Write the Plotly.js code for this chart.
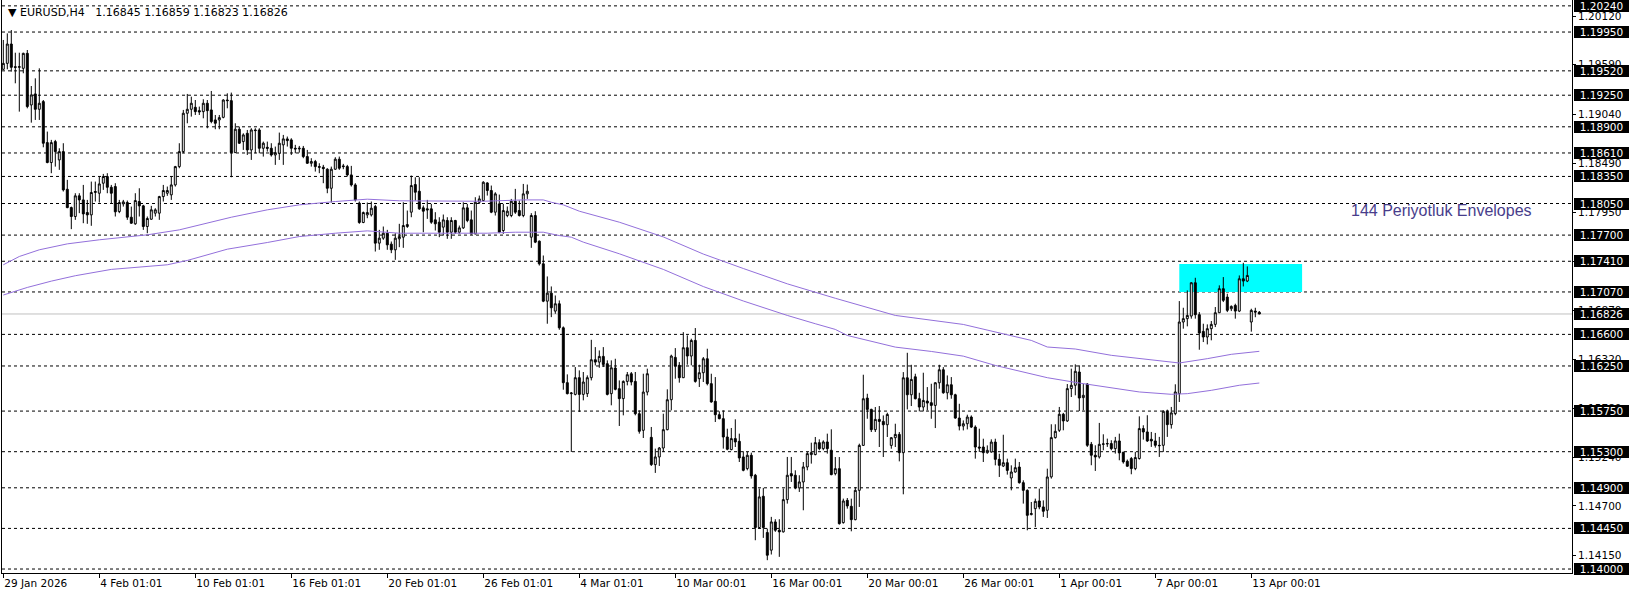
<!DOCTYPE html>
<html><head><meta charset="utf-8">
<script src="https://cdn.plot.ly/plotly-3.0.1.min.js"></script>
<style>html,body{margin:0;padding:0;background:#fff;} #chart{width:1636px;height:597px;}</style>
</head><body><div id="chart"></div>
<script>
const open=[
1.19537,1.19603,1.19817,1.19566,1.19559,1.19548,1.19714,1.19142,1.19264,1.19094,
1.19179,1.18725,1.18504,1.18736,1.18533,1.18625,1.18208,1.18005,1.17906,1.18135,
1.18090,1.17950,1.17924,1.18172,1.18164,1.18275,1.18349,1.18230,1.18238,1.17961,
1.18046,1.18061,1.17898,1.17825,1.18072,1.18024,1.17795,1.17876,1.17943,1.17943,
1.18127,1.18164,1.18146,1.18256,1.18459,1.18625,1.19050,1.19094,1.19116,1.19079,
1.19068,1.19161,1.19087,1.18976,1.18976,1.19005,1.19197,1.19190,1.18614,1.18873,
1.18736,1.18828,1.18644,1.18865,1.18865,1.18662,1.18673,1.18662,1.18588,1.18607,
1.18700,1.18766,1.18755,1.18662,1.18655,1.18662,1.18570,1.18496,1.18515,1.18459,
1.18452,1.18430,1.18219,1.18430,1.18541,1.18467,1.18459,1.18367,1.18256,1.18054,
1.17840,1.17924,1.17924,1.18016,1.17611,1.17666,1.17721,1.17600,1.17537,1.17659,
1.17677,1.17795,1.17954,1.18260,1.18186,1.18002,1.17991,1.17991,1.17869,1.17843,
1.17788,1.17862,1.17732,1.17862,1.17732,1.17780,1.18002,1.17869,1.17714,1.18064,
1.18083,1.18278,1.18194,1.17954,1.18046,1.17751,1.17917,1.17917,1.18075,1.17972,
1.17917,1.18157,1.17677,1.17917,1.17633,1.17382,1.16968,1.17057,1.16858,1.16939,
1.16673,1.16065,1.15943,1.15935,1.16120,1.15935,1.15943,1.16120,1.16319,1.16293,
1.16356,1.16275,1.15943,1.16227,1.15998,1.15888,1.16079,1.16164,1.16079,1.15721,
1.15537,1.15961,1.15459,1.15157,1.15242,1.15341,1.15544,1.15876,1.16345,1.16257,
1.16120,1.16452,1.16360,1.16533,1.16109,1.16175,1.16330,1.16054,1.15858,1.15710,
1.15666,1.15463,1.15323,1.15445,1.15415,1.15242,1.15113,1.15260,1.15039,1.14460,
1.14806,1.14404,1.14209,1.14522,1.14430,1.14412,1.14769,1.15057,1.15039,1.14899,
1.14965,1.15131,1.15268,1.15268,1.15400,1.15334,1.15408,1.15316,1.15057,1.15112,
1.14514,1.14761,1.14695,1.14547,1.14872,1.15370,1.15894,1.15769,1.15544,1.15658,
1.15636,1.15599,1.15370,1.15455,1.15492,1.15289,1.16119,1.15931,1.16130,1.15887,
1.15795,1.15861,1.15843,1.15813,1.16064,1.16208,1.15953,1.16042,1.15931,1.15673,
1.15584,1.15610,1.15684,1.15573,1.15352,1.15352,1.15289,1.15297,1.15407,1.15215,
1.15141,1.15178,1.15009,1.15075,1.15130,1.14957,1.14872,1.14603,1.14669,1.14754,
1.14688,1.14651,1.15021,1.15456,1.15537,1.15715,1.15641,1.15999,1.16036,1.16183,
1.15899,1.16050,1.15382,1.15261,1.15242,1.15382,1.15386,1.15390,1.15334,1.15419,
1.15294,1.15194,1.15224,1.15113,1.15224,1.15556,1.15519,1.15438,1.15419,1.15371,
1.15371,1.15748,1.15600,1.15722,1.15943,1.16737,1.16774,1.16803,1.17172,1.16818,
1.16633,1.16571,1.16663,1.16711,1.16840,1.17106,1.17013,1.16884,1.16921,1.16858,
1.17216,1.17191,1.16737,1.16858,1.16845];
const high=[
1.19862,1.19935,1.19972,1.19721,1.19721,1.19721,1.19751,1.19352,1.19437,1.19548,
1.19197,1.18847,1.18755,1.18755,1.18662,1.18718,1.18312,1.18016,1.18164,1.18164,
1.18256,1.18090,1.18293,1.18293,1.18349,1.18378,1.18386,1.18256,1.18275,1.18090,
1.18090,1.18083,1.18016,1.18164,1.18219,1.18035,1.17906,1.18024,1.17998,1.18135,
1.18256,1.18238,1.18349,1.18467,1.18718,1.19087,1.19264,1.19234,1.19197,1.19124,
1.19205,1.19197,1.19297,1.19031,1.19031,1.19205,1.19271,1.19279,1.18939,1.18902,
1.18828,1.18865,1.18884,1.18884,1.18884,1.18736,1.18736,1.18718,1.18681,1.18836,
1.18810,1.18792,1.18773,1.18700,1.18688,1.18688,1.18644,1.18552,1.18533,1.18496,
1.18478,1.18441,1.18459,1.18563,1.18570,1.18489,1.18478,1.18467,1.18275,1.18072,
1.17961,1.18061,1.18072,1.18035,1.17758,1.17795,1.17758,1.17629,1.17721,1.17825,
1.18064,1.17972,1.18360,1.18341,1.18341,1.18028,1.18090,1.18046,1.17954,1.17898,
1.17928,1.17898,1.17898,1.17869,1.17806,1.18064,1.18046,1.17972,1.18120,1.18138,
1.18297,1.18286,1.18249,1.18175,1.18149,1.18046,1.18017,1.18101,1.18212,1.18083,
1.18267,1.18260,1.17943,1.17965,1.17640,1.17474,1.17242,1.17131,1.17031,1.16976,
1.16688,1.16157,1.15961,1.16238,1.16201,1.16183,1.16146,1.16540,1.16459,1.16422,
1.16459,1.16312,1.16312,1.16330,1.16090,1.16090,1.16183,1.16183,1.16183,1.15758,
1.16164,1.16220,1.15574,1.15334,1.15352,1.15721,1.15991,1.16375,1.16448,1.16293,
1.16625,1.16589,1.16552,1.16670,1.16264,1.16349,1.16441,1.16164,1.16127,1.15747,
1.15758,1.15555,1.15563,1.15659,1.15500,1.15305,1.15297,1.15290,1.15054,1.14891,
1.14899,1.14448,1.14578,1.14552,1.14552,1.14891,1.15242,1.15242,1.15094,1.15039,
1.15186,1.15297,1.15400,1.15463,1.15437,1.15426,1.15500,1.15548,1.15241,1.15241,
1.14780,1.14787,1.14780,1.14909,1.15389,1.16153,1.15942,1.15776,1.15795,1.15806,
1.15702,1.15732,1.15463,1.15610,1.15518,1.16182,1.16396,1.16263,1.16164,1.15953,
1.16175,1.16016,1.16053,1.16071,1.16263,1.16237,1.16145,1.16127,1.15942,1.15831,
1.15647,1.15710,1.15702,1.15592,1.15555,1.15444,1.15370,1.15437,1.15444,1.15278,
1.15488,1.15223,1.15149,1.15223,1.15186,1.14983,1.14883,1.14743,1.14780,1.14891,
1.14761,1.15112,1.15604,1.15604,1.15796,1.15730,1.16050,1.16220,1.16268,1.16257,
1.16050,1.16061,1.15408,1.15371,1.15619,1.15493,1.15445,1.15427,1.15464,1.15500,
1.15298,1.15213,1.15242,1.15298,1.15692,1.15593,1.15704,1.15519,1.15508,1.15464,
1.15759,1.15766,1.15796,1.16047,1.16969,1.16895,1.17087,1.17179,1.17227,1.16847,
1.16718,1.16711,1.16748,1.16903,1.17143,1.17235,1.17050,1.16921,1.16940,1.17253,
1.17393,1.17353,1.16884,1.16895,1.16859];
const low=[
1.19529,1.19537,1.19511,1.19382,1.19068,1.19493,1.19105,1.18946,1.18976,1.18976,
1.18673,1.18496,1.18386,1.18459,1.18423,1.18183,1.17998,1.17766,1.17869,1.17943,
1.17832,1.17825,1.17803,1.18072,1.18061,1.18201,1.18164,1.18054,1.17906,1.17943,
1.18016,1.17869,1.17825,1.17814,1.17906,1.17758,1.17721,1.17869,1.17906,1.17869,
1.18072,1.18135,1.18090,1.18238,1.18441,1.18607,1.18939,1.19013,1.19031,1.19031,
1.18994,1.18884,1.18939,1.18873,1.18873,1.18994,1.19105,1.18341,1.18614,1.18710,
1.18644,1.18588,1.18533,1.18607,1.18607,1.18570,1.18625,1.18570,1.18478,1.18533,
1.18478,1.18681,1.18588,1.18607,1.18614,1.18552,1.18489,1.18459,1.18404,1.18386,
1.18275,1.18164,1.18061,1.18423,1.18423,1.18430,1.18349,1.18238,1.18072,1.17825,
1.17832,1.17887,1.17906,1.17518,1.17537,1.17648,1.17537,1.17500,1.17426,1.17566,
1.17559,1.17780,1.17898,1.18083,1.17980,1.17732,1.17880,1.17825,1.17751,1.17677,
1.17695,1.17659,1.17659,1.17714,1.17714,1.17769,1.17843,1.17707,1.17707,1.18046,
1.18075,1.18138,1.17943,1.17917,1.17721,1.17714,1.17898,1.17898,1.17935,1.17906,
1.17898,1.18101,1.17559,1.17611,1.17363,1.16957,1.16718,1.16791,1.16828,1.16651,
1.15987,1.15935,1.15297,1.15924,1.15740,1.15869,1.15906,1.16090,1.16256,1.16230,
1.16238,1.15924,1.15814,1.15980,1.15585,1.15703,1.16035,1.16035,1.15703,1.15500,
1.15452,1.15924,1.15142,1.15065,1.15142,1.15297,1.15537,1.15758,1.16109,1.16065,
1.16116,1.16264,1.16257,1.16065,1.16017,1.16072,1.16035,1.15843,1.15629,1.15659,
1.15334,1.15316,1.15316,1.15352,1.15186,1.15083,1.15094,1.15002,1.14319,1.14448,
1.14345,1.14098,1.14161,1.14412,1.14135,1.14404,1.14725,1.14965,1.14884,1.14854,
1.14651,1.15094,1.15168,1.15260,1.15316,1.15316,1.15279,1.15039,1.15038,1.14492,
1.14503,1.14669,1.14418,1.14540,1.14688,1.15363,1.15665,1.15518,1.15518,1.15352,
1.15241,1.15463,1.15333,1.15352,1.15193,1.14828,1.15769,1.15806,1.15880,1.15747,
1.15747,1.15758,1.15665,1.15562,1.15998,1.15942,1.15880,1.15887,1.15665,1.15536,
1.15536,1.15547,1.15562,1.15223,1.15297,1.15186,1.15278,1.15289,1.15149,1.15020,
1.15130,1.15046,1.14872,1.15068,1.14946,1.14725,1.14429,1.14595,1.14466,1.14662,
1.14577,1.14566,1.15002,1.15445,1.15519,1.15537,1.15630,1.15906,1.15925,1.15751,
1.15759,1.15353,1.15150,1.15087,1.15224,1.15316,1.15353,1.15316,1.15279,1.15205,
1.15168,1.15132,1.15050,1.15095,1.15213,1.15434,1.15408,1.15353,1.15345,1.15242,
1.15298,1.15464,1.15556,1.15704,1.15851,1.16663,1.16689,1.16774,1.16774,1.16430,
1.16515,1.16489,1.16534,1.16681,1.16836,1.16958,1.16847,1.16858,1.16774,1.16847,
1.17131,1.17179,1.16630,1.16790,1.16823];
const close=[
1.19603,1.19817,1.19559,1.19559,1.19566,1.19714,1.19124,1.19253,1.19094,1.19161,
1.18718,1.18504,1.18725,1.18625,1.18625,1.18201,1.18005,1.17906,1.18135,1.18090,
1.17935,1.17924,1.18172,1.18183,1.18267,1.18349,1.18230,1.18164,1.17958,1.18061,
1.18068,1.17898,1.17832,1.18083,1.18024,1.17795,1.17884,1.17980,1.17980,1.18127,
1.18194,1.18194,1.18256,1.18459,1.18625,1.19050,1.19094,1.19161,1.19068,1.19065,
1.19161,1.19079,1.18958,1.18939,1.19002,1.19197,1.19190,1.18614,1.18873,1.18718,
1.18810,1.18644,1.18865,1.18858,1.18662,1.18718,1.18662,1.18588,1.18614,1.18718,
1.18766,1.18747,1.18662,1.18655,1.18662,1.18570,1.18496,1.18515,1.18459,1.18452,
1.18437,1.18219,1.18430,1.18541,1.18441,1.18459,1.18367,1.18256,1.18090,1.17840,
1.17950,1.17950,1.17998,1.17611,1.17666,1.17721,1.17592,1.17537,1.17666,1.17684,
1.17806,1.17817,1.18249,1.18175,1.17991,1.17965,1.17980,1.17843,1.17825,1.17732,
1.17869,1.17732,1.17862,1.17732,1.17780,1.18002,1.17862,1.17714,1.18064,1.18101,
1.18286,1.18194,1.17954,1.18157,1.17732,1.17972,1.17965,1.18075,1.17954,1.17917,
1.18157,1.18186,1.17917,1.17622,1.17382,1.16968,1.17057,1.16895,1.16939,1.16673,
1.16065,1.15943,1.15950,1.16120,1.15935,1.16072,1.16120,1.16319,1.16293,1.16356,
1.16267,1.15935,1.16230,1.15991,1.15888,1.16079,1.16153,1.16072,1.15721,1.15526,
1.15961,1.16164,1.15157,1.15242,1.15341,1.15544,1.15876,1.16360,1.16249,1.16120,
1.16452,1.16360,1.16533,1.16079,1.16175,1.16330,1.16054,1.15851,1.15710,1.15666,
1.15463,1.15327,1.15445,1.15408,1.15231,1.15094,1.15260,1.15031,1.14460,1.14799,
1.14460,1.14153,1.14522,1.14430,1.14412,1.14769,1.15039,1.15031,1.14899,1.14965,
1.15131,1.15279,1.15290,1.15400,1.15334,1.15408,1.15334,1.15046,1.15112,1.14503,
1.14754,1.14699,1.14547,1.14872,1.15370,1.15887,1.15769,1.15544,1.15658,1.15636,
1.15599,1.15713,1.15455,1.15492,1.15289,1.16119,1.15931,1.16101,1.15887,1.15795,
1.15868,1.15839,1.15813,1.16064,1.16208,1.15953,1.16042,1.15931,1.15673,1.15584,
1.15610,1.15684,1.15573,1.15352,1.15341,1.15289,1.15315,1.15407,1.15215,1.15149,
1.15178,1.15093,1.15075,1.15123,1.14957,1.14872,1.14595,1.14614,1.14750,1.14688,
1.14640,1.15020,1.15456,1.15526,1.15715,1.15641,1.15999,1.16036,1.16191,1.15895,
1.15925,1.15371,1.15261,1.15242,1.15382,1.15386,1.15390,1.15334,1.15419,1.15287,
1.15187,1.15139,1.15113,1.15235,1.15556,1.15519,1.15419,1.15419,1.15371,1.15367,
1.15748,1.15600,1.15730,1.15962,1.16737,1.16774,1.16810,1.17172,1.16818,1.16615,
1.16571,1.16663,1.16711,1.16840,1.17106,1.16977,1.16866,1.16910,1.16858,1.17216,
1.17191,1.17253,1.16866,1.16847,1.16826];

// 144-period envelope lines (values read at candle positions)
const upperIdx=[0,4,9,16,24,36,44,49,57,66,74,83,91,99,110,120,130,135,137,140,144,149,154,165,175,185,196,208,223,240,252,257,261,268,277,286,294,301,307,314];
const upperVal=[1.17371,1.17463,1.17537,1.17603,1.17648,1.17703,1.17758,1.17814,1.17898,1.17980,1.18035,1.18072,1.18098,1.18080,1.18075,1.18075,1.18090,1.18090,1.18064,1.18035,1.17965,1.17906,1.17843,1.17680,1.17490,1.17330,1.17160,1.17000,1.16810,1.16710,1.16588,1.16533,1.16460,1.16438,1.16368,1.16320,1.16283,1.16331,1.16379,1.16412];
const lowerIdx=[0,6,12,18,27,41,46,56,66,74,83,91,99,110,121,128,135,139,142,145,149,151,154,165,175,185,196,203,208,211,215,223,232,240,248,257,261,269,277,284,292,296,302,309,314];
const lowerVal=[1.17036,1.17120,1.17190,1.17250,1.17320,1.17371,1.17419,1.17544,1.17618,1.17684,1.17721,1.17747,1.17721,1.17721,1.17721,1.17732,1.17732,1.17695,1.17677,1.17622,1.17566,1.17530,1.17493,1.17320,1.17130,1.16970,1.16810,1.16718,1.16655,1.16588,1.16544,1.16459,1.16411,1.16359,1.16256,1.16164,1.16120,1.16061,1.16006,1.15962,1.15936,1.15943,1.15980,1.16036,1.16061];

const levels=[1.20240,1.19950,1.19520,1.19250,1.18900,1.18610,1.18350,1.18050,1.17700,1.17410,1.17070,1.16600,1.16250,1.15750,1.15300,1.14900,1.14450,1.14000];
const bidPrice=1.16826;
const priceTicks=[1.20120,1.19590,1.19040,1.18490,1.17950,1.17410,1.16870,1.16320,1.15780,1.15240,1.14700,1.14150];
const timeTickIdx=[0,24,48,72,96,120,144,168,192,216,240,264,288,312];
const timeTickText=["29 Jan 2026","4 Feb 01:01","10 Feb 01:01","16 Feb 01:01","20 Feb 01:01","26 Feb 01:01","4 Mar 01:01","10 Mar 00:01","16 Mar 00:01","20 Mar 00:01","26 Mar 00:01","1 Apr 00:01","7 Apr 00:01","13 Apr 00:01"];
const headerText="\u25BC EURUSD,H4\u00A0\u00A0 1.16845 1.16859 1.16823 1.16826";
const envText="144 Periyotluk Envelopes";

const idx=open.map((_,i)=>i);
const FONT="DejaVu Sans";

const traces=[
 {type:'candlestick',x:idx,open:open,high:high,low:low,close:close,
  increasing:{line:{color:'#000',width:1},fillcolor:'#ffffff'},
  decreasing:{line:{color:'#000',width:1},fillcolor:'#000000'},
  whiskerwidth:0,hoverinfo:'none'},
 {type:'scatter',mode:'lines',x:upperIdx,y:upperVal,line:{color:'#9370DB',width:1},hoverinfo:'none'},
 {type:'scatter',mode:'lines',x:lowerIdx,y:lowerVal,line:{color:'#9370DB',width:1},hoverinfo:'none'}
];

const shapes=[
 {type:'rect',xref:'x',yref:'y',x0:294,x1:324.7,y0:1.17070,y1:1.17380,fillcolor:'#00FFFF',line:{width:0},layer:'below'}
];
levels.forEach(v=>shapes.push({type:'line',xref:'paper',x0:0,x1:1,yref:'y',y0:v,y1:v,line:{color:'#000',width:1,dash:'3px,3px'},layer:'below'}));
shapes.push({type:'line',xref:'paper',x0:0,x1:1,yref:'y',y0:bidPrice,y1:bidPrice,line:{color:'#C0C0C0',width:1},layer:'below'});

const annotations=[];
levels.concat([bidPrice]).forEach(v=>annotations.push({xref:'paper',x:1,xanchor:'left',xshift:2,yref:'y',y:v,yanchor:'middle',
  text:v.toFixed(5),showarrow:false,bgcolor:'#000',borderpad:0,borderwidth:0,width:55,height:12,align:'center',
  font:{family:FONT,size:10.5,color:'#fff'}}));
annotations.push({xref:'paper',x:0,xanchor:'left',xshift:4,yref:'paper',y:1-12.5/573,yanchor:'middle',text:headerText,showarrow:false,
  font:{family:FONT,size:11,color:'#000'}});
annotations.push({xref:'paper',x:(1349-2)/1570,xanchor:'left',yref:'paper',y:1-210/573,yanchor:'middle',text:envText,showarrow:false,
  font:{family:'Liberation Sans, Arial',size:16,color:'#483D8B'}});

const layout={
 width:1636,height:597,margin:{l:2,r:64,t:0,b:24},
 paper_bgcolor:'#fff',plot_bgcolor:'#fff',showlegend:false,
 xaxis:{range:[-0.325,392.175],tickvals:timeTickIdx,ticktext:timeTickText,ticks:'outside',ticklen:4,tickcolor:'#000',
   ticklabelposition:'outside right',showgrid:false,zeroline:false,showline:true,linecolor:'#000',linewidth:1,
   rangeslider:{visible:false},fixedrange:true,tickfont:{family:FONT,size:10.5,color:'#000'}},
 yaxis:{side:'right',range:[1.13956,1.20305],tickvals:priceTicks,ticktext:priceTicks.map(v=>v.toFixed(5)),
   ticks:'outside',ticklen:3,tickcolor:'#000',showgrid:false,zeroline:false,showline:true,mirror:true,linecolor:'#000',linewidth:1,
   fixedrange:true,tickfont:{family:FONT,size:10.5,color:'#000'}},
 shapes:shapes,annotations:annotations
};
Plotly.newPlot('chart',traces,layout,{displayModeBar:false,staticPlot:true});
</script></body></html>
